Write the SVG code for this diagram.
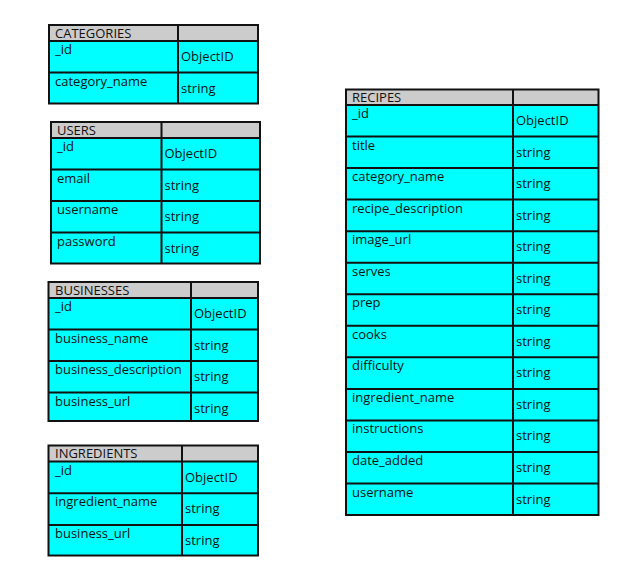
<svg xmlns="http://www.w3.org/2000/svg" width="634" height="584" viewBox="0 0 634 584">
<style>
.bg{fill:#fff}
.hdr{fill:#cccccc}
.body{fill:#00ffff}
.ln{stroke:#111;stroke-width:2;fill:none}
text{font-family:"Open Sans","Noto Sans","DejaVu Sans",sans-serif;font-size:13px;fill:#111}
</style>
<rect class="bg" x="0" y="0" width="634" height="584"/>
<g id="categories">
<rect class="body" x="49" y="25" width="209" height="78.5"/>
<rect class="hdr" x="49" y="25" width="209" height="16"/>
<rect class="ln" x="49" y="25" width="209" height="78.5"/>
<path class="ln" d="M49 41H258M49 72.5H258M178 25V103.5"/>
<text x="55" y="37.5">CATEGORIES</text>
<text x="55" y="54">_id</text><text x="181" y="61">ObjectID</text>
<text x="55" y="85.5">category_name</text><text x="181" y="92.5">string</text>
</g>
<g id="users">
<rect class="body" x="51" y="122" width="209" height="141.5"/>
<rect class="hdr" x="51" y="122" width="209" height="16"/>
<rect class="ln" x="51" y="122" width="209" height="141.5"/>
<path class="ln" d="M51 138H260M51 169.5H260M51 201H260M51 232.5H260M161.5 122V263.5"/>
<text x="57" y="134.5">USERS</text>
<text x="57" y="151">_id</text><text x="164.5" y="158">ObjectID</text>
<text x="57" y="182.5">email</text><text x="164.5" y="189.5">string</text>
<text x="57" y="214">username</text><text x="164.5" y="221">string</text>
<text x="57" y="245.5">password</text><text x="164.5" y="252.5">string</text>
</g>
<g id="businesses">
<rect class="body" x="48.5" y="282" width="209.5" height="139"/>
<rect class="hdr" x="48.5" y="282" width="209.5" height="16"/>
<rect class="ln" x="48.5" y="282" width="209.5" height="139"/>
<path class="ln" d="M48.5 298H258M48.5 329.5H258M48.5 361H258M48.5 392.5H258M191 282V421"/>
<text x="55" y="294.5">BUSINESSES</text>
<text x="55" y="311">_id</text><text x="194" y="318">ObjectID</text>
<text x="55" y="342.5">business_name</text><text x="194" y="349.5">string</text>
<text x="55" y="374">business_description</text><text x="194" y="381">string</text>
<text x="55" y="405.5">business_url</text><text x="194" y="412.5">string</text>
</g>
<g id="ingredients">
<rect class="body" x="48.5" y="445.5" width="209.5" height="110"/>
<rect class="hdr" x="48.5" y="445.5" width="209.5" height="16"/>
<rect class="ln" x="48.5" y="445.5" width="209.5" height="110"/>
<path class="ln" d="M48.5 461.5H258M48.5 493.3H258M48.5 525H258M182 445.5V555.5"/>
<text x="55" y="458">INGREDIENTS</text>
<text x="55" y="474.5">_id</text><text x="185" y="481.5">ObjectID</text>
<text x="55" y="506.3">ingredient_name</text><text x="185" y="513.3">string</text>
<text x="55" y="538">business_url</text><text x="185" y="545">string</text>
</g>
<g id="recipes">
<rect class="body" x="346" y="89.5" width="252.5" height="425.5"/>
<rect class="hdr" x="346" y="89.5" width="252.5" height="15.5"/>
<rect class="ln" x="346" y="89.5" width="252.5" height="425.5"/>
<path class="ln" d="M346 105H598.5M346 136.5H598.5M346 168.1H598.5M346 199.6H598.5M346 231.2H598.5M346 262.7H598.5M346 294.2H598.5M346 325.8H598.5M346 357.3H598.5M346 388.9H598.5M346 420.4H598.5M346 451.9H598.5M346 483.5H598.5M513 89.5V515"/>
<text x="352" y="101.5">RECIPES</text>
<text x="352" y="118">_id</text><text x="516" y="125">ObjectID</text>
<text x="352" y="149.5">title</text><text x="516" y="156.5">string</text>
<text x="352" y="181.1">category_name</text><text x="516" y="188.1">string</text>
<text x="352" y="212.6">recipe_description</text><text x="516" y="219.6">string</text>
<text x="352" y="244.2">image_url</text><text x="516" y="251.2">string</text>
<text x="352" y="275.7">serves</text><text x="516" y="282.7">string</text>
<text x="352" y="307.2">prep</text><text x="516" y="314.2">string</text>
<text x="352" y="338.8">cooks</text><text x="516" y="345.8">string</text>
<text x="352" y="370.3">difficulty</text><text x="516" y="377.3">string</text>
<text x="352" y="401.9">ingredient_name</text><text x="516" y="408.9">string</text>
<text x="352" y="433.4">instructions</text><text x="516" y="440.4">string</text>
<text x="352" y="464.9">date_added</text><text x="516" y="471.9">string</text>
<text x="352" y="496.5">username</text><text x="516" y="503.5">string</text>
</g>
</svg>
